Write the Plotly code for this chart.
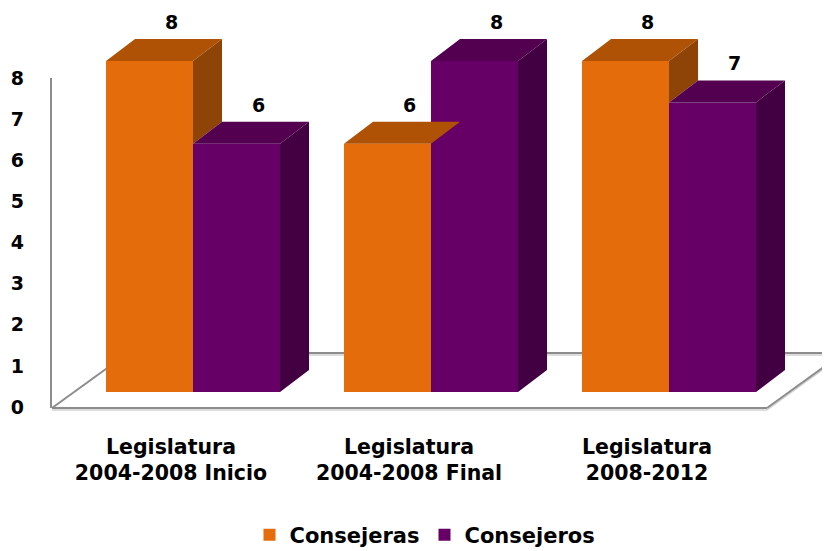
import plotly.graph_objects as go

# ---------------- data ----------------
categories = ["Legislatura<br>2004-2008 Inicio",
              "Legislatura<br>2004-2008 Final",
              "Legislatura<br>2008-2012"]
series_names = ["Consejeras", "Consejeros"]
consejeras = [8, 6, 8]
consejeros = [6, 8, 7]
y_tick_values = [0, 1, 2, 3, 4, 5, 6, 7, 8]

# ---------------- styles ----------------
FRONT = ["#E46C0A", "#660066"]
TOP = ["#AF5206", "#530050"]
SIDE = ["#8F4407", "#420042"]
FLOOR_COLOR = "#8C8C8C"
FLOOR_SHADOW = "#D0D0D0"
FONT = "DejaVu Sans"

# ---------------- pixel geometry (screen px, page body has 8px margin) ----------------
OFF = 8
W, H = 830 - OFF, 551 - OFF
PL, PR, PT, PB = 30, 830, 8, 430            # plot area in screen px
G0, GSTEP = 193, 238                        # screen px of first group boundary, px per category
BAR_PX = 87
BASE_PX, UNIT_PX = 392, 41.375              # bar baseline / px per value unit
TICK0_PX, TICK_UNIT = 407, 41.125           # front value axis
DX_PX, DY_PX = 29, 22                       # bar depth


def xu(px):
    return (px - G0) / GSTEP


def yu(px):
    return (BASE_PX - px) / UNIT_PX


bw = BAR_PX / GSTEP
dx = DX_PX / GSTEP
dy = DY_PX / UNIT_PX

fig = go.Figure()

# floor / walls (layout shapes, behind bars)
fl_x, fr_x = xu(52), xu(767)
front_y = yu(408)
depth_x, depth_y = 76 / GSTEP, 55 / UNIT_PX
floor_lines = [
    (fl_x, front_y, fr_x, front_y),
    (fr_x, front_y, fr_x + depth_x, front_y + depth_y),
    (fl_x + depth_x, front_y + depth_y, fr_x + depth_x, front_y + depth_y),
    (fl_x, front_y, fl_x + depth_x, front_y + depth_y),
    (xu(51), front_y, xu(51), yu(78)),
]
shadow = 2 / UNIT_PX
for (x0, y0, x1, y1) in floor_lines[:3]:
    fig.add_shape(type="line", xref="x", yref="y2", x0=x0, y0=y0 - shadow, x1=x1, y1=y1 - shadow,
                  line=dict(color=FLOOR_SHADOW, width=1.5), layer="below")
for (x0, y0, x1, y1) in floor_lines:
    fig.add_shape(type="line", xref="x", yref="y2", x0=x0, y0=y0, x1=x1, y1=y1,
                  line=dict(color=FLOOR_COLOR, width=2), layer="below")

# placeholder trace so the front value axis is drawn
fig.add_trace(go.Scatter(x=[None], y=[None], mode="lines", showlegend=False,
                         hoverinfo="skip"))

idx = list(range(len(categories)))
series = [consejeras, consejeros]
offsets = [-bw, 0.0]

# front faces as bars
for s, (name, vals) in enumerate(zip(series_names, series)):
    fig.add_trace(go.Bar(
        x=idx, y=vals, width=bw, offset=offsets[s], base=0,
        name=name, yaxis="y2",
        marker=dict(color=FRONT[s], line=dict(width=0)),
        hoverinfo="skip",
    ))


def poly_trace(xs, ys, color):
    return go.Scatter(x=xs, y=ys, yaxis="y2", mode="lines", fill="toself",
                      fillcolor=color, line=dict(width=0, color=color),
                      hoverinfo="skip", showlegend=False)


# top and side faces computed from the data
for s, vals in enumerate(series):
    tx, ty, sx, sy = [], [], [], []
    for i, v in zip(idx, vals):
        left = i + offsets[s]
        right = left + bw
        tx += [left, right, right + dx, left + dx, left, None]
        ty += [v, v, v + dy, v + dy, v, None]
        if s == 0:
            other = consejeros[i]
            low = other if other < v else None
        else:
            low = 0
        if low is not None:
            sx += [right, right + dx, right + dx, right, right, None]
            sy += [low, low + dy, v + dy, v, low, None]
    if sx:
        fig.add_trace(poly_trace(sx, sy, SIDE[s]))
    fig.add_trace(poly_trace(tx, ty, TOP[s]))

# data labels
lab_off_x = 22 / GSTEP
lab_off_y = dy + 15 / UNIT_PX
for s, vals in enumerate(series):
    fig.add_trace(go.Scatter(
        x=[i + offsets[s] + bw / 2 + lab_off_x for i in idx],
        y=[v + lab_off_y for v in vals],
        text=[str(v) for v in vals], mode="text", yaxis="y2",
        textposition="middle center",
        textfont=dict(family=FONT, size=19, color="black", weight="bold"),
        hoverinfo="skip", showlegend=False,
    ))

plot_h = PB - PT
fig.update_layout(
    width=W, height=H,
    margin=dict(l=PL - OFF, r=830 - PR, t=PT - OFF, b=551 - PB, pad=0, autoexpand=False),
    paper_bgcolor="white", plot_bgcolor="white",
    barmode="overlay",
    showlegend=True,
    legend=dict(orientation="h", x=(425 - PL) / (PR - PL), xanchor="center",
                y=(PB - 535) / plot_h, yanchor="middle",
                font=dict(family=FONT, size=21, color="black", weight="bold"),
                traceorder="normal"),
    xaxis=dict(range=[xu(PL), xu(PR)], tickvals=[i - 22 / GSTEP for i in idx],
               ticktext=categories, showgrid=False, zeroline=False, showline=False,
               ticks="", ticklabelstandoff=2,
               tickfont=dict(family=FONT, size=20.5, color="black", weight="bold")),
    yaxis=dict(range=[(TICK0_PX - PB) / TICK_UNIT, (TICK0_PX - PT) / TICK_UNIT],
               tickvals=y_tick_values, showgrid=False, zeroline=False, showline=False,
               ticks="", ticklabelstandoff=5,
               tickfont=dict(family=FONT, size=19, color="black", weight="bold")),
    yaxis2=dict(range=[yu(PB), yu(PT)], overlaying="y", visible=False,
                showgrid=False, zeroline=False),
)

fig.write_html("out.html")
